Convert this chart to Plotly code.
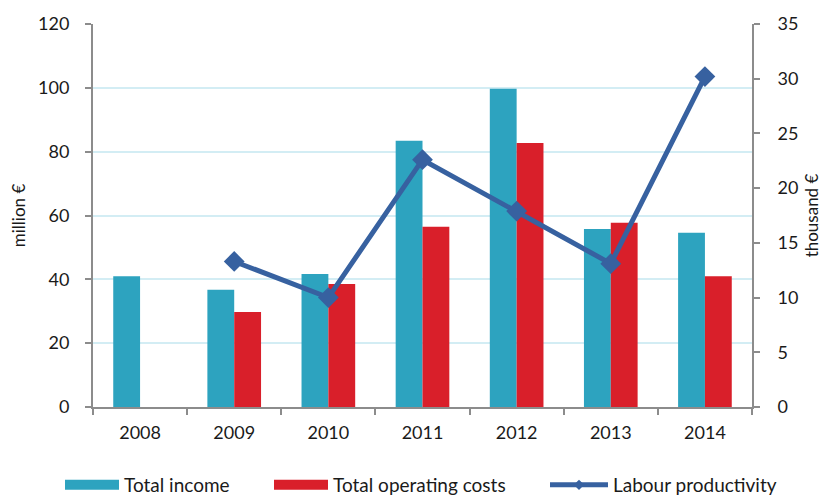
import plotly.graph_objects as go

years = ["2008", "2009", "2010", "2011", "2012", "2013", "2014"]
total_income = [41.0, 36.7, 41.7, 83.4, 99.7, 55.8, 54.6]
total_costs = [None, 29.8, 38.5, 56.5, 82.7, 57.7, 41.0]
labour_productivity = [None, 13.3, 10.0, 22.6, 17.9, 13.1, 30.2]

names = ["Total income", "Total operating costs", "Labour productivity"]
colors = ["#2DA3BF", "#D91F2A", "#3761A0"]

font_family = "Lato, 'Open Sans', sans-serif"

fig = go.Figure()
fig.add_trace(go.Bar(x=years, y=total_income, name=names[0], showlegend=False,
                     marker=dict(color=colors[0], line=dict(width=0))))
fig.add_trace(go.Bar(x=years, y=total_costs, name=names[1], showlegend=False,
                     marker=dict(color=colors[1], line=dict(width=0))))
fig.add_trace(go.Scatter(x=years, y=labour_productivity, name=names[2], showlegend=False,
                         yaxis="y2", mode="lines+markers",
                         line=dict(color=colors[2], width=5),
                         marker=dict(symbol="diamond", size=16, color=colors[2])))

W, H = 823, 496
legend_names = ["legend", "legend2", "legend3"]
swatch_left = [65, 274, 550]  # page pixel positions of legend swatches
legend_layout = {}
for i, nm in enumerate(names):
    if i < 2:
        fig.add_trace(go.Scatter(x=[None], y=[None], name=nm, mode="lines",
                                 legend=legend_names[i],
                                 line=dict(color=colors[i], width=10)))
    else:
        fig.add_trace(go.Scatter(x=[None], y=[None], name=nm, mode="lines+markers",
                                 legend=legend_names[i],
                                 line=dict(color=colors[i], width=5),
                                 marker=dict(symbol="diamond", size=8, color=colors[i])))
    legend_layout[legend_names[i]] = dict(
        orientation="h", xref="container", yref="container",
        x=(swatch_left[i] - 8 - 5) / W, xanchor="left", y=0.0, yanchor="bottom",
        font=dict(size=19), itemwidth=54 if i < 2 else 58, bgcolor="rgba(0,0,0,0)")

fig.update_layout(
    width=W, height=H,
    margin=dict(l=85, r=79, t=16, b=97, autoexpand=False),
    paper_bgcolor="white", plot_bgcolor="white",
    font=dict(family=font_family, size=18, color="#1a1a1a"),
    barmode="group", bargap=0.43, bargroupgap=0,
    showlegend=True,
    **legend_layout,
    xaxis=dict(showline=True, linecolor="#8c8c8c", linewidth=2,
               ticks="outside", tickcolor="#8c8c8c", ticklen=6, tickwidth=2,
               ticklabelstandoff=8,
               tickson="boundaries", showgrid=False, zeroline=False),
    yaxis=dict(range=[0, 120], dtick=20, showline=True, linecolor="#8c8c8c", linewidth=2,
               ticks="outside", tickcolor="#8c8c8c", ticklen=6, tickwidth=2,
               ticklabelstandoff=12,
               gridcolor="#D3EDF4", gridwidth=2, zeroline=False,
               title=dict(text="million €", standoff=16, font=dict(size=17))),
    yaxis2=dict(range=[0, 35], dtick=5, overlaying="y", side="right",
                showline=True, linecolor="#8c8c8c", linewidth=2,
                ticks="outside", tickcolor="#8c8c8c", ticklen=6, tickwidth=2,
                ticklabelstandoff=14,
                showgrid=False, zeroline=False,
                title=dict(text="thousand €", standoff=9, font=dict(size=17))),
)

fig.write_html("out.html")
